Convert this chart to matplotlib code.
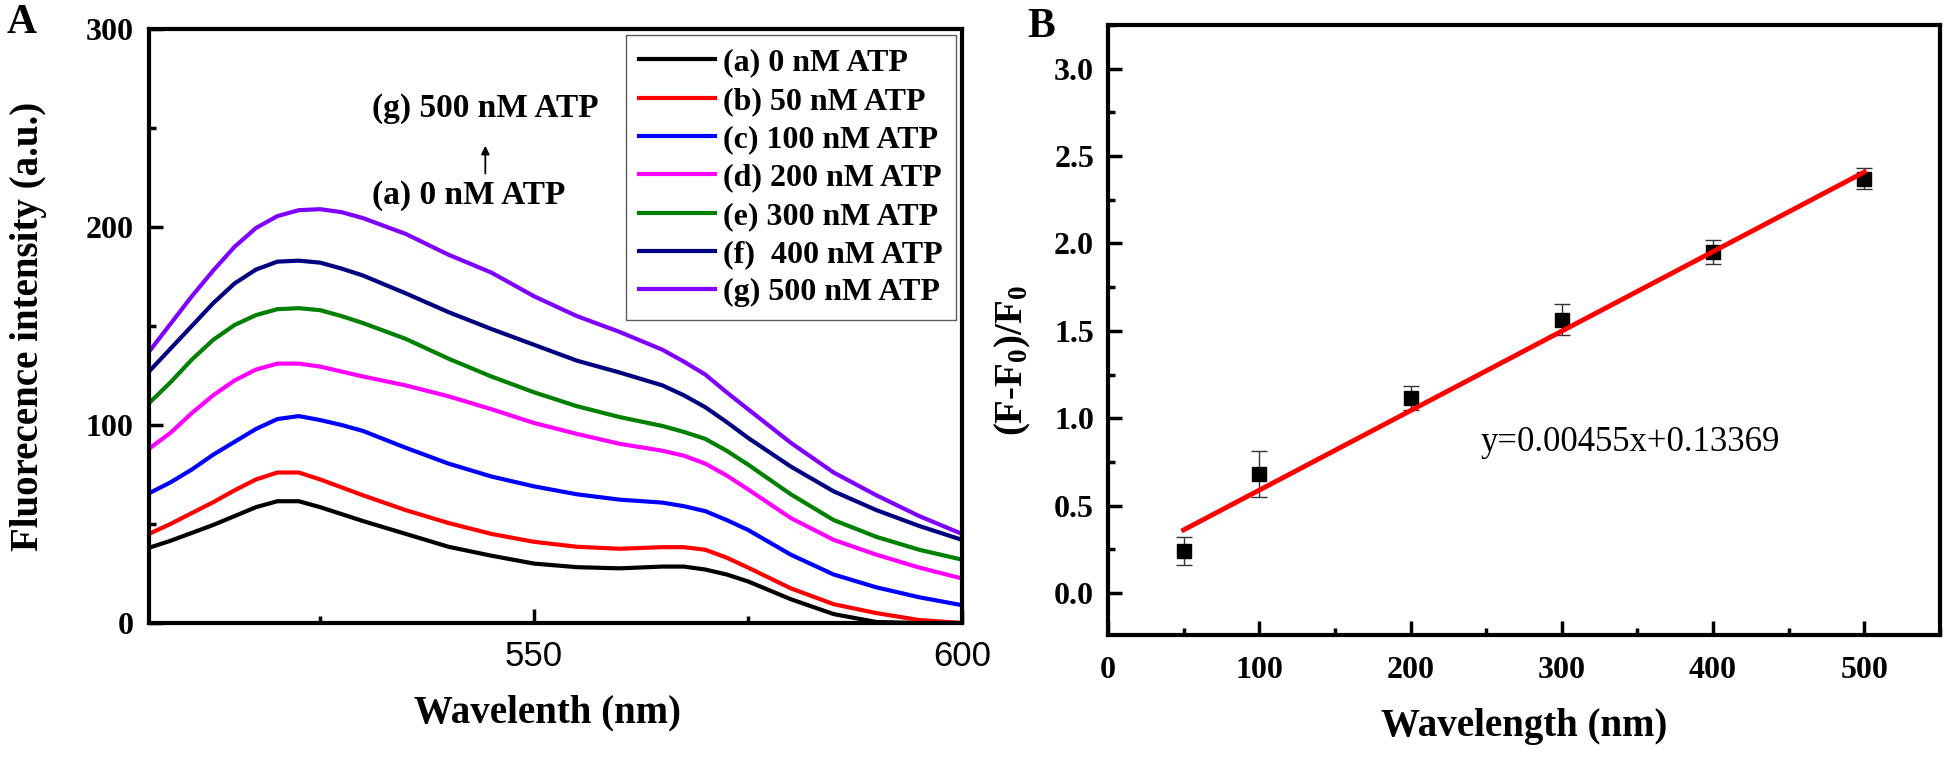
import matplotlib.pyplot as plt
from matplotlib.ticker import MultipleLocator, FixedLocator
from matplotlib import font_manager

plt.rcParams['font.family'] = 'Liberation Serif'
plt.rcParams['font.weight'] = 'bold'
plt.rcParams['mathtext.fontset'] = 'custom'
plt.rcParams['mathtext.rm'] = 'Liberation Serif:bold'
plt.rcParams['mathtext.it'] = 'Liberation Serif:bold'
plt.rcParams['mathtext.bf'] = 'Liberation Serif:bold'

# ---- panel A: emission spectra ----
wavelength = [505, 507.5, 510, 512.5, 515, 517.5, 520, 522.5, 525, 527.5, 530,
              535, 540, 545, 550, 555, 560, 565, 567.5, 570, 572.5, 575,
              580, 585, 590, 595, 600]
atp_0 = [38, 41.5, 45.5, 49.5, 54, 58.5, 61.5, 61.5, 58.5, 55, 51.5,
         45, 38.5, 34, 30, 28.2, 27.6, 28.5, 28.5, 27, 24.5, 21,
         12, 4.5, 0.5, 0, 0]
atp_50 = [45, 50, 55.5, 61, 67, 72.5, 76, 76, 72.5, 68.5, 64.5,
          57, 50.5, 45, 41, 38.5, 37.5, 38.3, 38.3, 37, 33, 28,
          17.5, 9.5, 5, 1.5, 0]
atp_100 = [65.5, 71, 77.5, 85, 91.5, 98, 103, 104.5, 102.5, 100, 97,
           88.5, 80.5, 74, 69, 65, 62.3, 60.8, 59, 56.5, 52, 47,
           34.5, 24.5, 18, 13, 9]
atp_200 = [88, 96, 106, 115, 122.5, 128, 131, 131, 129.5, 127, 124.5,
           120, 114.5, 108, 101, 95.5, 90.5, 87, 84.5, 80.5, 74.5, 67.5,
           53, 42, 34.5, 28, 22.5]
atp_300 = [111, 121.5, 133, 143, 150.5, 155.5, 158.5, 159, 158, 155, 151.5,
           143.5, 133.5, 124.5, 116.5, 109.5, 104, 99.5, 96.5, 93, 87, 80,
           65, 52, 43.5, 37, 32]
atp_400 = [127, 138.5, 150, 161.5, 171.5, 178.5, 182.5, 183, 182, 179, 175.5,
           166.5, 157, 148.5, 140.5, 132.5, 126.5, 120, 115, 109, 101.5, 93.5,
           79, 66.5, 57, 49, 42]
atp_500 = [137, 151, 165, 178, 190, 199.5, 205.5, 208.5, 209, 207.5, 204.5,
           196.5, 186, 177, 165, 155, 147, 138, 132, 125.5, 116.5, 108,
           91, 76, 64.5, 54, 45]

spectra = [atp_0, atp_50, atp_100, atp_200, atp_300, atp_400, atp_500]
labels = ['(a) 0 nM ATP', '(b) 50 nM ATP', '(c) 100 nM ATP', '(d) 200 nM ATP',
          '(e) 300 nM ATP', '(f)  400 nM ATP', '(g) 500 nM ATP']
colors = ['#000000', '#ff0000', '#0000ff', '#ff00ff', '#008000', '#000080', '#8000ff']

# ---- panel B: calibration ----
conc = [50, 100, 200, 300, 400, 500]
ratio = [0.24, 0.68, 1.115, 1.565, 1.95, 2.37]
ratio_err = [0.08, 0.13, 0.07, 0.09, 0.07, 0.06]
slope = 0.00455
intercept = 0.13369
fit_x = [50, 500]
fit_y = [slope * x + intercept for x in fit_x]

fig = plt.figure(figsize=(19.46, 7.57), dpi=100)
W, H = 1946, 757
ax1 = fig.add_axes([149 / W, (H - 623) / H, 813 / W, 594 / H])
ax2 = fig.add_axes([1108 / W, (H - 635) / H, 832 / W, 610 / H])


def sans_family():
    for name in ['Liberation Sans Narrow', 'Liberation Sans']:
        try:
            font_manager.findfont(name, fallback_to_default=False)
            return name
        except Exception:
            pass
    return 'DejaVu Sans'


for ys, lab, c in zip(spectra, labels, colors):
    ax1.plot(wavelength, ys, color=c, lw=3, label=lab, solid_joinstyle='round')

ax1.set_xlim(505, 600)
ax1.set_ylim(0, 300)
ax1.xaxis.set_major_locator(FixedLocator([550, 600]))
ax1.xaxis.set_minor_locator(FixedLocator([525, 575]))
ax1.yaxis.set_major_locator(MultipleLocator(100))
ax1.yaxis.set_minor_locator(MultipleLocator(50))
ax1.tick_params(which='major', direction='in', length=10, width=2.5,
                labelsize=23, top=False, right=False)
ax1.tick_params(which='minor', direction='in', length=5, width=2.5,
                top=False, right=False)
ax1.tick_params(axis='y', pad=11)
ax1.tick_params(axis='x', pad=12)
sf = sans_family()
for t in ax1.get_xticklabels():
    t.set_fontfamily(sf)
    t.set_fontweight('normal')
    t.set_fontsize(25)
for s in ax1.spines.values():
    s.set_linewidth(3)

ax1.set_xlabel('Wavelenth (nm)', fontsize=28, fontweight='bold')
ax1.xaxis.set_label_coords(0.49, -0.12)
ax1.set_ylabel('Fluorecence intensity (a.u.)', fontsize=28, fontweight='bold')
ax1.yaxis.set_label_coords(-0.125, 0.5)

leg = ax1.legend(loc='upper right', bbox_to_anchor=(1.0, 1.0), borderaxespad=0.2,
                 fontsize=23, handlelength=2.4, handletextpad=0.25,
                 labelspacing=0.28, borderpad=0.4, fancybox=False, frameon=True)
leg.get_frame().set_edgecolor('#333333')
leg.get_frame().set_linewidth(1.0)

ax1.text(531, 260, '(g) 500 nM ATP', fontsize=24, fontweight='bold', va='center')
ax1.text(531, 216, '(a) 0 nM ATP', fontsize=24, fontweight='bold', va='center')
ax1.annotate('', xy=(544.3, 241), xytext=(544.3, 227),
             arrowprops=dict(arrowstyle='-|>', color='black', lw=1.3,
                             mutation_scale=12, shrinkA=0, shrinkB=0))

# panel B
ax2.errorbar(conc, ratio, yerr=ratio_err, fmt='s', color='black', ms=10,
             ecolor='#333333', elinewidth=1, capsize=6, capthick=1, zorder=3)
ax2.plot(fit_x, fit_y, color='#ff0000', lw=3.5, zorder=4)
ax2.set_xlim(0, 550)
ax2.set_ylim(-0.24, 3.25)
ax2.xaxis.set_major_locator(MultipleLocator(100))
ax2.xaxis.set_minor_locator(MultipleLocator(50))
ax2.yaxis.set_major_locator(MultipleLocator(0.5))
ax2.yaxis.set_minor_locator(MultipleLocator(0.25))
ax2.yaxis.set_major_formatter(plt.FormatStrFormatter('%.1f'))
ax2.tick_params(which='major', direction='in', length=10, width=2.5,
                labelsize=23, top=False, right=False)
ax2.tick_params(which='minor', direction='in', length=5, width=2.5,
                top=False, right=False)
ax2.tick_params(axis='y', pad=10)
ax2.tick_params(axis='x', pad=15)
for s in ax2.spines.values():
    s.set_linewidth(3)
ax2.set_xlabel('Wavelength (nm)', fontsize=28, fontweight='bold')
ax2.xaxis.set_label_coords(0.5, -0.12)
ax2.set_ylabel('(F-F$_0$)/F$_0$', fontsize=28, fontweight='bold')
ax2.yaxis.set_label_coords(-0.09, 0.45)
ax2.text(345, 0.86, 'y=0.00455x+0.13369', fontsize=25, fontweight='normal',
         ha='center', va='center')

fig.text(7 / W, 1 - 33 / H, 'A', fontsize=30, fontweight='bold', va='baseline')
fig.text(1027 / W, 1 - 37 / H, 'B', fontsize=30, fontweight='bold', va='baseline')

fig.savefig('out.png', dpi=100)
